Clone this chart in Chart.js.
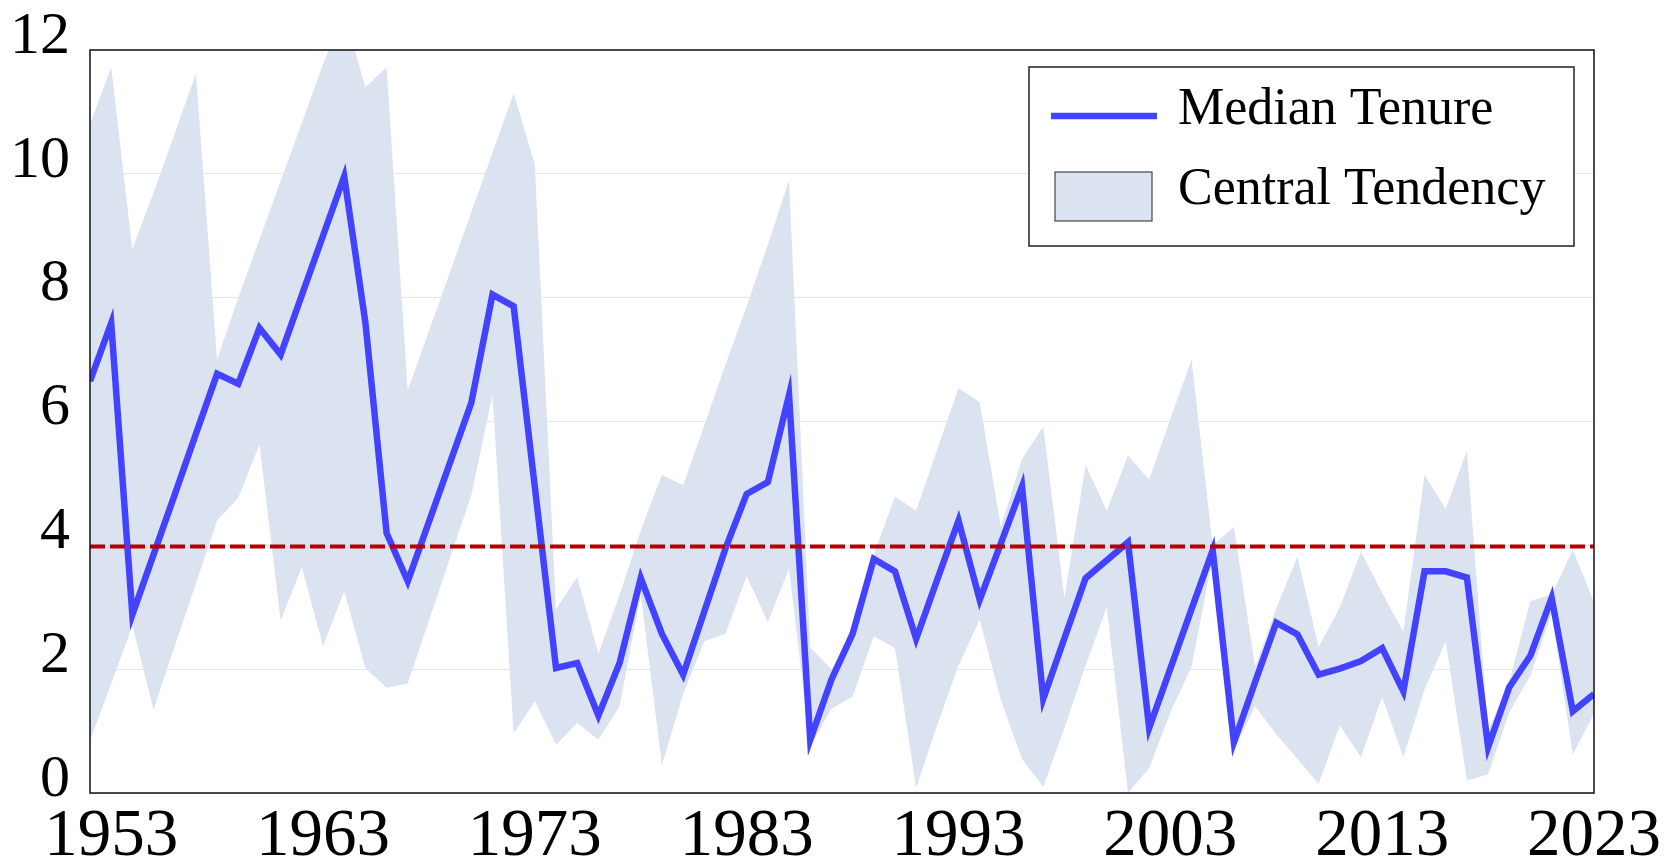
<!DOCTYPE html>
<html>
<head>
<meta charset="utf-8">
<script src="https://cdn.jsdelivr.net/npm/chart.js@4/dist/chart.umd.min.js"></script>
<style>
  html, body { margin: 0; padding: 0; background: #fff; }
  #wrap { width: 1669px; height: 863px; }
</style>
</head>
<body>
<div id="wrap"><canvas id="chart"></canvas></div>
<script>
const years = [
  1952, 1953, 1954, 1955, 1956, 1957, 1958, 1959, 1960, 1961,
  1962, 1963, 1964, 1965, 1966, 1967, 1968, 1969, 1970, 1971,
  1972, 1973, 1974, 1975, 1976, 1977, 1978, 1979, 1980, 1981,
  1982, 1983, 1984, 1985, 1986, 1987, 1988, 1989, 1990, 1991,
  1992, 1993, 1994, 1995, 1996, 1997, 1998, 1999, 2000, 2001,
  2002, 2003, 2004, 2005, 2006, 2007, 2008, 2009, 2010, 2011,
  2012, 2013, 2014, 2015, 2016, 2017, 2018, 2019, 2020, 2021,
  2022, 2023
];

const medianTenure = [
  6.65, 7.59, 2.88, 3.85, 4.82, 5.80, 6.77, 6.61, 7.51, 7.08,
  8.04, 9.00, 9.96, 7.60, 4.20, 3.42, 4.38, 5.34, 6.30, 8.05,
  7.86, 4.94, 2.02, 2.10, 1.25, 2.10, 3.47, 2.57, 1.91, 2.93,
  3.95, 4.83, 5.02, 6.43, 0.86, 1.83, 2.57, 3.78, 3.58, 2.49,
  3.45, 4.40, 3.12, 4.03, 4.95, 1.52, 2.50, 3.47, 3.76, 4.05,
  1.05, 2.01, 2.97, 3.92, 0.82, 1.79, 2.75, 2.56, 1.91, 2.01,
  2.13, 2.34, 1.64, 3.58, 3.58, 3.48, 0.74, 1.71, 2.22, 3.15,
  1.32, 1.60
];

// central tendency band, upper and lower edge
const bandHigh = [
  10.80, 11.72, 8.78, 9.70, 10.65, 11.62, 7.00, 8.00, 8.94, 9.89,
  10.82, 11.77, 12.60, 11.40, 11.72, 6.50, 7.46, 8.42, 9.38, 10.34,
  11.30, 10.15, 2.97, 3.49, 2.25, 3.20, 4.24, 5.14, 4.97, 5.94,
  6.92, 7.86, 8.86, 9.90, 2.35, 2.00, 2.60, 3.85, 4.79, 4.56,
  5.55, 6.54, 6.31, 4.30, 5.40, 5.92, 3.15, 5.30, 4.56, 5.45,
  5.06, 6.04, 7.00, 4.00, 4.30, 2.04, 2.98, 3.82, 2.36, 3.00,
  3.90, 3.23, 2.60, 5.14, 4.59, 5.53, 1.00, 1.80, 3.10, 3.20,
  3.93, 3.08
];

const bandLow = [
  0.85, 1.76, 2.70, 1.35, 2.37, 3.38, 4.40, 4.77, 5.63, 2.78,
  3.65, 2.37, 3.26, 2.02, 1.70, 1.77, 2.78, 3.80, 4.81, 6.43,
  0.96, 1.48, 0.78, 1.13, 0.86, 1.40, 3.20, 0.45, 1.60, 2.45,
  2.57, 3.50, 2.76, 3.62, 0.75, 1.36, 1.56, 2.53, 2.34, 0.08,
  1.10, 2.06, 2.80, 1.50, 0.55, 0.10, 1.05, 2.06, 3.00, 0.00,
  0.40, 1.30, 2.04, 3.80, 0.70, 1.40, 0.95, 0.55, 0.15, 1.09,
  0.58, 1.55, 0.58, 1.67, 2.45, 0.20, 0.30, 1.30, 1.90, 2.90,
  0.62, 1.28
];

const tickYears = [1953, 1963, 1973, 1983, 1993, 2003, 2013, 2023];
const averageTenure = 3.98;

const SERIF = "'Liberation Serif', 'DejaVu Serif', serif";

const asPoints = (vals) => years.map((yr, i) => ({ x: yr, y: vals[i] }));

// frame around the plot area
const plotFrame = {
  id: 'plotFrame',
  afterDraw(chart) {
    const { ctx, chartArea: a } = chart;
    ctx.save();
    ctx.strokeStyle = '#111';
    ctx.lineWidth = 1.5;
    ctx.strokeRect(a.left, a.top, a.right - a.left, a.bottom - a.top);
    ctx.restore();
  }
};

// legend box in the upper right corner
const cornerLegend = {
  id: 'cornerLegend',
  afterDraw(chart) {
    const { ctx, chartArea: a } = chart;
    const ds = chart.data.datasets;
    const line = ds[1], band = ds[2];
    const x0 = a.right - 565, y0 = a.top + 17, w = 545, h = 179;
    ctx.save();
    ctx.fillStyle = 'rgba(255,255,255,0.9)';
    ctx.fillRect(x0, y0, w, h);
    ctx.strokeStyle = '#222';
    ctx.lineWidth = 1.5;
    ctx.strokeRect(x0, y0, w, h);

    ctx.strokeStyle = line.borderColor;
    ctx.lineWidth = line.borderWidth;
    ctx.beginPath();
    ctx.moveTo(x0 + 22, y0 + 49);
    ctx.lineTo(x0 + 128, y0 + 49);
    ctx.stroke();

    ctx.fillStyle = band.backgroundColor;
    ctx.fillRect(x0 + 26, y0 + 105, 97, 49);
    ctx.strokeStyle = '#444';
    ctx.lineWidth = 1.2;
    ctx.strokeRect(x0 + 26, y0 + 105, 97, 49);

    ctx.fillStyle = '#000';
    ctx.font = '52px ' + SERIF;
    ctx.textBaseline = 'alphabetic';
    ctx.fillText(line.label, x0 + 149, y0 + 57);
    ctx.fillText(band.label, x0 + 149, y0 + 137);
    ctx.restore();
  }
};

new Chart(document.getElementById('chart'), {
  type: 'line',
  data: {
    datasets: [
      {
        label: 'Average',
        data: [
          { x: years[0], y: averageTenure },
          { x: years[years.length - 1], y: averageTenure }
        ],
        borderColor: '#b20000',
        borderWidth: 4,
        borderDash: [15, 5],
        pointRadius: 0,
        fill: false,
        order: 0
      },
      {
        label: 'Median Tenure',
        data: asPoints(medianTenure),
        borderColor: '#4343ff',
        borderWidth: 6.5,
        pointRadius: 0,
        tension: 0,
        fill: false,
        order: 1
      },
      {
        label: 'Central Tendency',
        data: asPoints(bandHigh),
        borderWidth: 0,
        borderColor: 'rgba(0,0,0,0)',
        backgroundColor: '#dce3f0',
        pointRadius: 0,
        tension: 0,
        fill: '+1',
        order: 2
      },
      {
        label: 'band low',
        data: asPoints(bandLow),
        borderWidth: 0,
        borderColor: 'rgba(0,0,0,0)',
        pointRadius: 0,
        tension: 0,
        fill: false,
        order: 3
      }
    ]
  },
  options: {
    responsive: true,
    maintainAspectRatio: false,
    animation: false,
    layout: { padding: { top: 50, right: 75, left: 0, bottom: 0 } },
    scales: {
      x: {
        type: 'linear',
        min: years[0],
        max: years[years.length - 1],
        afterBuildTicks: (s) => { s.ticks = tickYears.map((v) => ({ value: v })); },
        afterFit: (s) => {
          s.height = 70;
          s.paddingLeft = 0;
          s.paddingRight = 0;
        },
        grid: { display: false, drawTicks: false },
        border: { display: false },
        ticks: {
          autoSkip: false,
          maxRotation: 0,
          padding: 11,
          color: '#000',
          font: { family: SERIF, size: 67, lineHeight: 1 },
          callback: (v) => String(v)
        }
      },
      y: {
        min: 0,
        max: 12,
        afterFit: (s) => { s.width = 90; },
        grid: { color: '#e6e6e6', lineWidth: 1, drawTicks: false },
        border: { display: false },
        ticks: {
          stepSize: 2,
          padding: 20,
          labelOffset: -13,
          color: '#000',
          font: { family: SERIF, size: 60, lineHeight: 1 }
        }
      }
    },
    plugins: {
      legend: { display: false },
      tooltip: { enabled: false }
    }
  },
  plugins: [plotFrame, cornerLegend]
});
</script>
</body>
</html>
